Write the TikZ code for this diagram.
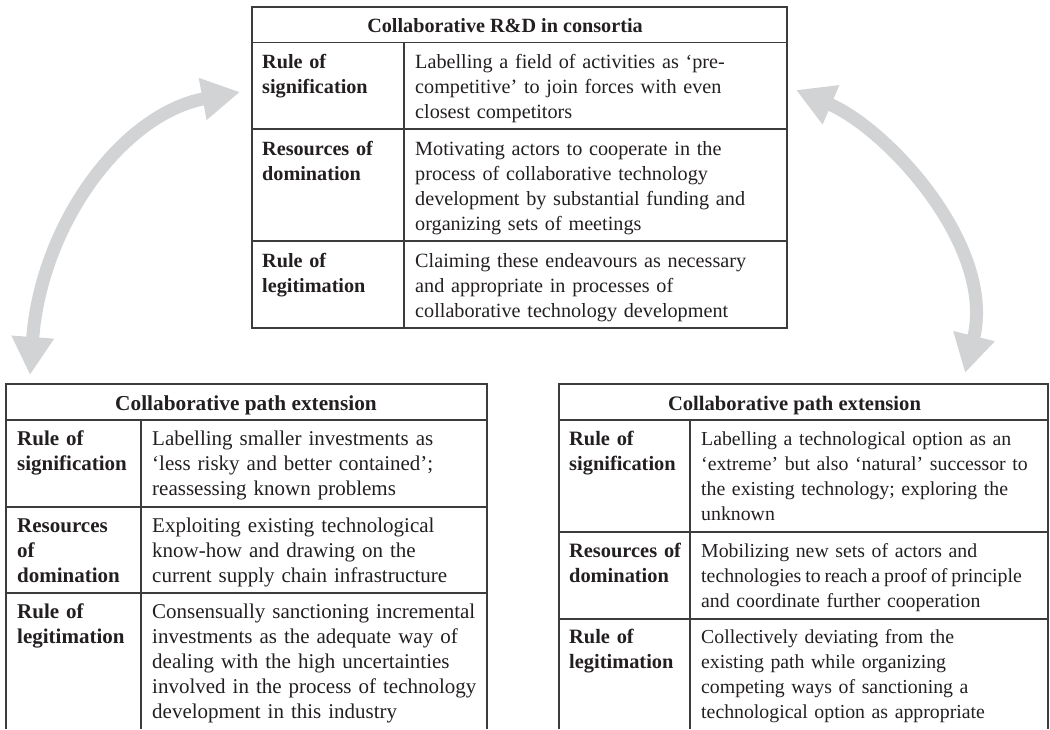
\documentclass[tikz,border=0pt]{standalone}
\usepackage{fontspec}
\setmainfont{Liberation Serif}
\usetikzlibrary{arrows.meta}
\definecolor{tblgray}{HTML}{3C3C3C}
\definecolor{arrowgray}{HTML}{D1D3D4}
\definecolor{txt}{HTML}{231F20}
\tikzset{
  tline/.style={draw=tblgray, line width=1.3pt},
  cell/.style={anchor=base west, inner sep=0pt, align=left, text width=380pt, text=txt, font=\fontsize{#1}{25}\selectfont},
  cell/.default=20.2,
  lcell/.style={cell=#1, text width=200pt, font=\fontsize{#1}{25}\selectfont\bfseries},
  lcell/.default=20.2,
  hcell/.style={anchor=base, inner sep=0pt, text=txt, font=\fontsize{#1}{25}\selectfont\bfseries},
  hcell/.default=20.2,
  garrow/.style={draw=arrowgray, line width=13pt,
    {Triangle[length=38pt,width=40pt]}-{Triangle[length=38pt,width=40pt]}}
}
\begin{document}
\begin{tikzpicture}[x=1pt,y=-1pt]
\path[use as bounding box] (0,0) rectangle (1050,729);

% ---------- top table ----------
\draw[tline] (252,7) rectangle (787,328);
\draw[tline] (252,42.5) -- (787,42.5);
\draw[tline] (252,129) -- (787,129);
\draw[tline] (252,241) -- (787,241);
\draw[tline] (404,42.5) -- (404,328);
\node[hcell] (th) at (505,32) {Collaborative R\&D in consortia};
\node[lcell] (t1l) at (262,68) {Rule of\\signification};
\node[cell] (t1r) at (415,68) {Labelling a field of activities as ‘pre-\\competitive’ to join forces with even\\closest competitors};
\node[lcell] (t2l) at (262,155) {Resources of\\domination};
\node[cell] (t2r) at (415,155) {Motivating actors to cooperate in the\\process of collaborative technology\\development by substantial funding and\\organizing sets of meetings};
\node[lcell] (t3l) at (262,267) {Rule of\\legitimation};
\node[cell] (t3r) at (415,267) {Claiming these endeavours as necessary\\and appropriate in processes of\\collaborative technology development};

% ---------- bottom-left table ----------
\draw[tline] (6,729) -- (6,384) -- (487,384) -- (487,729);
\draw[tline] (6,420) -- (487,420);
\draw[tline] (6,507) -- (487,507);
\draw[tline] (6,593) -- (487,593);
\draw[tline] (141,420) -- (141,729);
\node[hcell=21.3] (lh) at (246,410) {Collaborative path extension};
\node[lcell=21] (l1l) at (17,445) {Rule of\\signification};
\node[cell=21] (l1r) at (152,445) {Labelling smaller investments as\\‘less risky and better contained’;\\reassessing known problems};
\node[lcell=21] (l2l) at (17,532) {Resources\\of\\domination};
\node[cell=21] (l2r) at (152,532) {Exploiting existing technological\\know-how and drawing on the\\current supply chain infrastructure};
\node[lcell=21] (l3l) at (17,618) {Rule of\\legitimation};
\node[cell=21] (l3r) at (152,618) {Consensually sanctioning incremental\\investments as the adequate way of\\dealing with the high uncertainties\\involved in the process of technology\\development in this industry};

% ---------- bottom-right table ----------
\draw[tline] (559,729) -- (559,384) -- (1048,384) -- (1048,729);
\draw[tline] (559,420) -- (1048,420);
\draw[tline] (559,532) -- (1048,532);
\draw[tline] (559,619) -- (1048,619);
\draw[tline] (690,420) -- (690,729);
\node[hcell=20.6] (rh) at (794.5,410) {Collaborative path extension};
\node[lcell=20.4] (r1l) at (569,445) {Rule of\\signification};
\node[cell=19.8] (r1r) at (701,445) {Labelling a technological option as an\\‘extreme’ but also ‘natural’ successor to\\the existing technology; exploring the\\unknown};
\node[lcell=20.4] (r2l) at (569,557) {Resources of\\domination};
\node[cell=19.8] (r2r) at (701,557) {Mobilizing new sets of actors and\\{\spaceskip=0.2em technologies to reach a proof of principle}\\and coordinate further cooperation};
\node[lcell=20.4] (r3l) at (569,643) {Rule of\\legitimation};
\node[cell=19.8] (r3r) at (701,643) {Collectively deviating from the\\existing path while organizing\\competing ways of sanctioning a\\technological option as appropriate};

% ---------- curved arrows ----------
\coordinate (la1) at (30,375);
\coordinate (la2) at (240,92);
\coordinate (ra1) at (796,90);
\coordinate (ra2) at (965,373);
\draw[garrow] (la1) .. controls (41,225) and (122,114) .. (la2);
\draw[garrow] (ra1) .. controls (888,129) and (996,247) .. (ra2);
\end{tikzpicture}
\end{document}
